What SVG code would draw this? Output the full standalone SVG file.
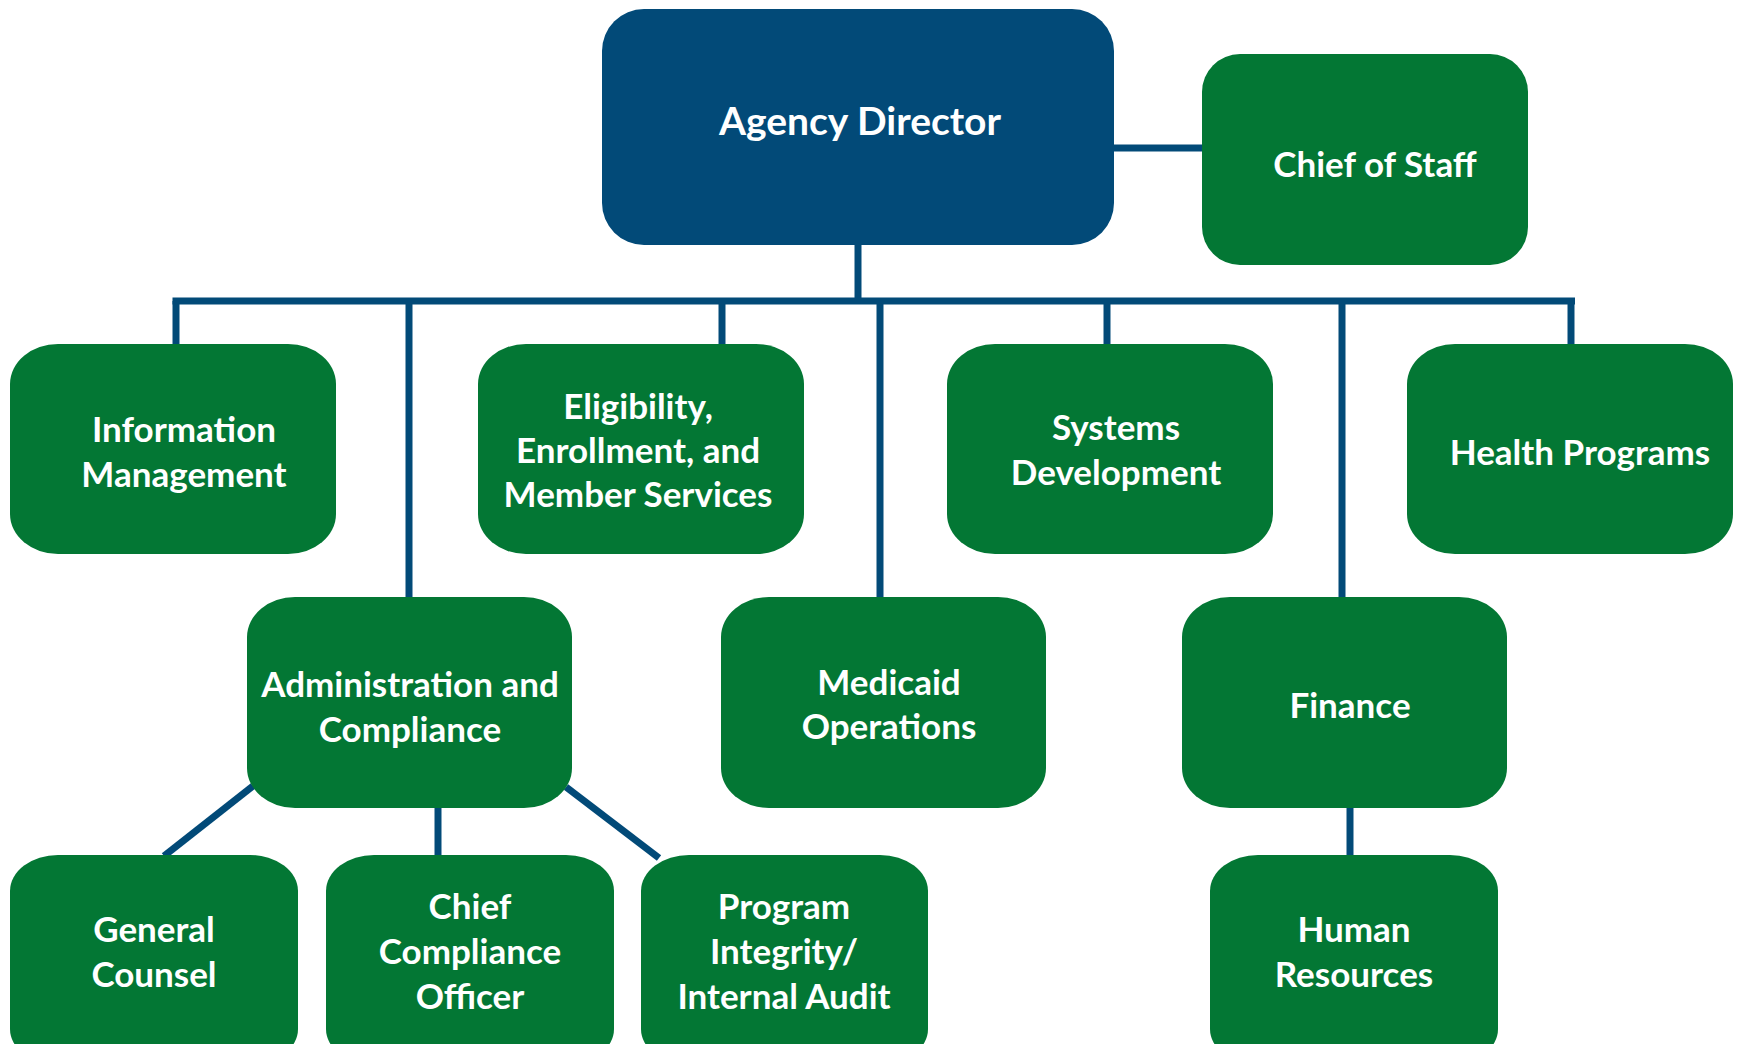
<svg xmlns="http://www.w3.org/2000/svg" width="1740" height="1044" viewBox="0 0 1740 1044">
<style>
.box{fill:#037734}
.dir{fill:#024A78}
.t{font-family:Lato,"Open Sans","Liberation Sans",sans-serif;font-weight:700;font-size:35px;fill:#fff;text-anchor:middle}
.big{font-size:39px}
.c{stroke:#024A78;stroke-width:7;fill:none}
</style>
<rect width="1740" height="1044" fill="#fff"/>
<g id="connectors">
<line class="c" x1="1114" y1="148" x2="1202" y2="148"/>
<line class="c" x1="858" y1="245" x2="858" y2="301"/>
<line class="c" x1="172.5" y1="301" x2="1575" y2="301"/>
<line class="c" x1="176" y1="301" x2="176" y2="344"/>
<line class="c" x1="409" y1="301" x2="409" y2="597"/>
<line class="c" x1="722" y1="301" x2="722" y2="344"/>
<line class="c" x1="880" y1="301" x2="880" y2="597"/>
<line class="c" x1="1107" y1="301" x2="1107" y2="344"/>
<line class="c" x1="1342" y1="301" x2="1342" y2="597"/>
<line class="c" x1="1571" y1="301" x2="1571" y2="344"/>
<line class="c" x1="253" y1="786" x2="164" y2="856"/>
<line class="c" x1="438" y1="808" x2="438" y2="855"/>
<line class="c" x1="566" y1="787" x2="659" y2="858"/>
<line class="c" x1="1350" y1="808" x2="1350" y2="855"/>
</g>
<g id="agency-director"><rect class="dir" x="602" y="9" width="512" height="236" rx="42" ry="42"/><text class="t big" x="860" y="135">Agency Director</text></g>
<g id="chief-of-staff"><rect class="box" x="1202" y="54" width="326" height="211" rx="38" ry="38"/><text class="t" x="1375" y="177">Chief of Staff</text></g>
<g id="information-management"><rect class="box" x="10" y="344" width="326" height="210" rx="48" ry="40"/><text class="t" x="184" y="442">Information</text><text class="t" x="184" y="487">Management</text></g>
<g id="eligibility"><rect class="box" x="478" y="344" width="326" height="210" rx="48" ry="40"/><text class="t" x="638" y="419">Eligibility,</text><text class="t" x="638" y="463">Enrollment, and</text><text class="t" x="638" y="507">Member Services</text></g>
<g id="systems-development"><rect class="box" x="947" y="344" width="326" height="210" rx="48" ry="40"/><text class="t" x="1116" y="440">Systems</text><text class="t" x="1116" y="485">Development</text></g>
<g id="health-programs"><rect class="box" x="1407" y="344" width="326" height="210" rx="48" ry="40"/><text class="t" x="1580" y="465">Health Programs</text></g>
<g id="administration-compliance"><rect class="box" x="247" y="597" width="325" height="211" rx="48" ry="40"/><text class="t" x="410" y="697">Administration and</text><text class="t" x="410" y="742">Compliance</text></g>
<g id="medicaid-operations"><rect class="box" x="721" y="597" width="325" height="211" rx="48" ry="40"/><text class="t" x="889" y="695">Medicaid</text><text class="t" x="889" y="739">Operations</text></g>
<g id="finance"><rect class="box" x="1182" y="597" width="325" height="211" rx="48" ry="40"/><text class="t" x="1350" y="718">Finance</text></g>
<g id="general-counsel"><rect class="box" x="10" y="855" width="288" height="210" rx="48" ry="36"/><text class="t" x="154" y="942">General</text><text class="t" x="154" y="987">Counsel</text></g>
<g id="chief-compliance-officer"><rect class="box" x="326" y="855" width="288" height="210" rx="48" ry="36"/><text class="t" x="470" y="919">Chief</text><text class="t" x="470" y="964">Compliance</text><text class="t" x="470" y="1009">Officer</text></g>
<g id="program-integrity"><rect class="box" x="641" y="855" width="287" height="210" rx="48" ry="36"/><text class="t" x="784" y="919">Program</text><text class="t" x="784" y="964">Integrity/</text><text class="t" x="784" y="1009">Internal Audit</text></g>
<g id="human-resources"><rect class="box" x="1210" y="855" width="288" height="210" rx="48" ry="36"/><text class="t" x="1354" y="942">Human</text><text class="t" x="1354" y="987">Resources</text></g>
</svg>
